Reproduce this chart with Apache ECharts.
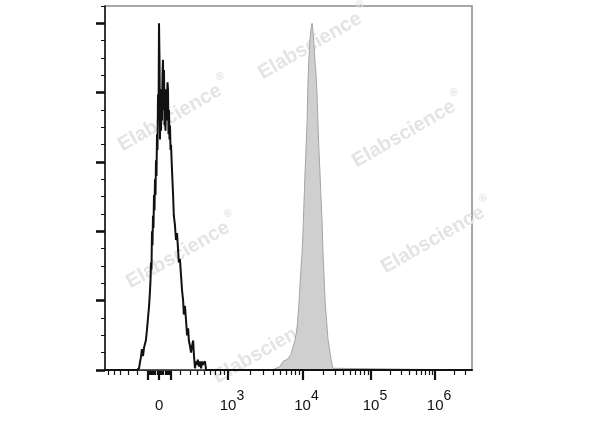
<!DOCTYPE html>
<html><head><meta charset="utf-8">
<script src="https://cdn.jsdelivr.net/npm/echarts@6/dist/echarts.min.js"></script>
<style>html,body{margin:0;padding:0;background:#fff}#c{width:600px;height:427px}</style>
</head><body><div id="c"></div>
<script>
// ---- data (display channel 0-1024 on a biexponential axis, count) ----
const blackChannel = [0,89,95,98,100,103,106,109,112,114,117,120,123,
  125.6,127,128.3,129.7,131.1,132.5,133.9,135.3,136.7,138.1,139.5,140.9,142.3,143.7,145.1,146.5,147.9,149.3,
  150.7,152.1,153.5,154.9,156.2,157.6,159,160.4,161.8,163.2,164.6,166,167.4,168.8,170.2,171.6,173,174.4,
  175.8,177.2,178.6,180,181.4,182.8,184.2,187,
  190,192,195,198,201,204,206,209,212,215,218,220,223,226,229,232,234,237,240,243,246,248,251,254,257,259,262,265,268,271,273,276,279,282,1024];
const blackCount   = [0,0,1,5,7,12,8,13,14,17,23,30,37,
  46,52,62,58,80,72,89,82,101,92,110,101,121,112,136,127,159,144,
  200,179,133,162,138,156,144,170,179,150,173,141,159,138,162,144,156,166,
  162,136,150,133,141,127,130,115,
  101,89,84,75,79,69,62,64,55,46,40,32,37,29,20,24,17,14,10,14,17,9,1,5,3,6,2,5,1,5,3,2,5,0,0];
const grayChannel = [0,466,470,477,488,497,502,508,513,519,524,530,536,541,544,547,550,552,555,558,561,564,566,569,572,575,578,580,583,586,589,592,594,597,600,603,606,608,611,614,617,620,622,625,628,631,634,636,639,1024];
const grayCount   = [0,0,1,1,2,5,5,6,7,9,13,17,24,38,49,59,68,78,95,113,128,144,164,180,191,197,200,196,188,178,170,157,143,127,113,98,84,69,55,40,32,24,18,14,10,6,3,1,0,0];

// axis calibration (channel of each decade 10^3..10^6, channel of zero)
const zeroChannel = 151;
const decadeExp = [3,4,5,6];
const decadeChannel = [343,551,742,921];

const xMajorTickValues = [-100,0,100,1e3,1e4,1e5,1e6];
const xMinorTickValues = [-600,-500,-400,-300,-200,-90,-80,-70,-60,-50,-40,-30,-20,-10,10,20,30,40,50,60,70,80,90,
  200,300,400,500,600,700,800,900,
  2e3,3e3,4e3,5e3,6e3,7e3,8e3,9e3,
  2e4,3e4,4e4,5e4,6e4,7e4,8e4,9e4,
  2e5,3e5,4e5,5e5,6e5,7e5,8e5,9e5,
  2e6,3e6];
const xLabelValues = [0,1e3,1e4,1e5,1e6];
const xLabelBase = ['0','10','10','10','10'];
const xLabelExp  = ['','3','4','5','6'];

const yMax = 210;
const yMajorTicks = [0,40,80,120,160,200];
const yMinorTicks = [0,10,20,30,40,50,60,70,80,90,100,110,120,130,140,150,160,170,180,190,200,210];

// ---- transform ----
function fwd(v){
  if (v < 1000) {
    return zeroChannel + (decadeChannel[0]-zeroChannel)*Math.asinh(v/330)/Math.asinh(1000/330);
  }
  const L = Math.log10(v);
  let i = Math.min(Math.floor(L) - decadeExp[0], decadeChannel.length-1);
  const lo = decadeChannel[i];
  const hi = i+1 < decadeChannel.length ? decadeChannel[i+1] : lo + (lo - decadeChannel[i-1]);
  return lo + (hi-lo)*(L - decadeExp[i]);
}
const inRange = c => c >= 0 && c <= 1024;
const majorCh = xMajorTickValues.map(fwd).filter(inRange);
const minorCh = xMinorTickValues.map(fwd).filter(inRange);
const labelCh = xLabelValues.map(fwd);

const blackData = blackChannel.map((c,i)=>[c, blackCount[i]]);
const grayData = grayChannel.map((c,i)=>[c, grayCount[i]]);

const FONT = '"Liberation Sans", Arial, sans-serif';
const xBase = {type:'value', min:0, max:1024, position:'bottom', splitLine:{show:false}};

const wm = [[170,118],[310,46],[404,134],[178,255],[433,240],[265,350]];
const wmEls = wm.map(p => ({
  type:'group', x:p[0], y:p[1], rotation:0.52, z:2, silent:true,
  children:[
    {type:'text', style:{text:'Elabscience', x:0, y:0, align:'center', verticalAlign:'middle',
      fontSize:20, fontWeight:'bold', fontFamily:FONT, fill:'#e4e4e4'}},
    {type:'text', style:{text:'®', x:64, y:-11, align:'center', verticalAlign:'middle',
      fontSize:11, fontWeight:'bold', fontFamily:FONT, fill:'#e4e4e4'}}
  ]
}));

const chart = echarts.init(document.getElementById('c'), null, {renderer:'canvas'});
chart.setOption({
  animation:false,
  backgroundColor:'#fff',
  grid:{left:105, top:6, width:367, height:364, show:true, borderColor:'#8a8a8a', borderWidth:1.5, containLabel:false},
  xAxis:[
    Object.assign({}, xBase, {
      axisLine:{show:true, onZero:false, lineStyle:{color:'#111', width:2}},
      axisTick:{show:true, customValues:minorCh, length:5, lineStyle:{color:'#111', width:1.2}},
      axisLabel:{show:false}
    }),
    Object.assign({}, xBase, {
      axisLine:{show:false, onZero:false},
      axisTick:{show:true, customValues:majorCh, length:10, lineStyle:{color:'#111', width:2.2}},
      axisLabel:{show:false}
    }),
    Object.assign({}, xBase, {
      axisLine:{show:false, onZero:false},
      axisTick:{show:false},
      axisLabel:{show:true, customValues:labelCh, margin:19,
        formatter:function(val){
          let k=0, best=1e9;
          labelCh.forEach((c,i)=>{const d=Math.abs(c-val); if(d<best){best=d;k=i;}});
          if (!xLabelExp[k]) return '{base|' + xLabelBase[k] + '}';
          return '{pad| }{base|' + xLabelBase[k] + '}{sup|' + xLabelExp[k] + '}';
        },
        rich:{
          base:{fontSize:15, fontFamily:FONT, color:'#111', padding:[9,0,0,0], verticalAlign:'bottom'},
          sup:{fontSize:14, fontFamily:FONT, color:'#111', padding:[0,0,10,0], verticalAlign:'top'},
          pad:{fontSize:14, fontFamily:FONT, width:8}
        }
      }
    })
  ],
  yAxis:[
    {type:'value', min:0, max:yMax, position:'left', splitLine:{show:false},
      axisLine:{show:true, onZero:false, lineStyle:{color:'#111', width:1.5}},
      axisTick:{show:true, customValues:yMinorTicks, length:4, lineStyle:{color:'#111', width:1}},
      axisLabel:{show:false}},
    {type:'value', min:0, max:yMax, position:'left', splitLine:{show:false},
      axisLine:{show:false, onZero:false},
      axisTick:{show:true, customValues:yMajorTicks, length:9, lineStyle:{color:'#111', width:2.6}},
      axisLabel:{show:false}}
  ],
  graphic:{elements:wmEls},
  series:[
    {type:'line', xAxisIndex:0, yAxisIndex:0, data:grayData, showSymbol:false, symbol:'none', z:1,
      lineStyle:{color:'#a4a4a4', width:1}, areaStyle:{color:'#cfcfcf', opacity:1}},
    {type:'line', xAxisIndex:0, yAxisIndex:0, data:blackData, showSymbol:false, symbol:'none', z:3,
      lineStyle:{color:'#111', width:2}}
  ]
});
</script>
</body></html>
